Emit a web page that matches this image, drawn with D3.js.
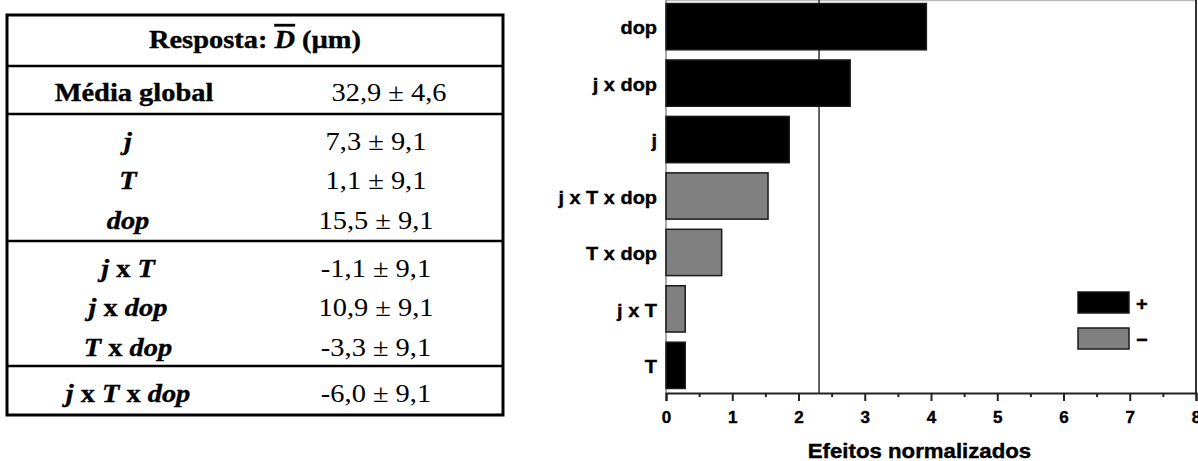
<!DOCTYPE html>
<html>
<head>
<meta charset="utf-8">
<script src="https://cdn.jsdelivr.net/npm/d3@7"></script>
<style>
  html, body { margin: 0; padding: 0; background: #fff; }
  svg { display: block; }
</style>
</head>
<body>
<svg id="chart" width="1198" height="461"></svg>
<script>
// ---------------- DATA ----------------
// Table
const tableHeader = "Resposta: ";
const tableHeaderSymbol = "D";
const tableHeaderUnit = " (µm)";
const meanLabel = "Média global";
const meanValue = 32.9;
const meanError = 4.6;
const tableEffects = ["j", "T", "dop", "j x T", "j x dop", "T x dop", "j x T x dop"];
const tableEffectValues = [7.3, 1.1, 15.5, -1.1, 10.9, -3.3, -6.0];
const tableEffectError = 9.1;
const tableGroups = [[0, 1, 2], [3, 4, 5], [6]];

// Pareto chart
const chartCategories = ["dop", "j x dop", "j", "j x T x dop", "T x dop", "j x T", "T"];
const chartValues = [3.93, 2.78, 1.86, 1.54, 0.84, 0.29, 0.29];
const chartSigns = ["+", "+", "+", "-", "-", "-", "+"];
const referenceValue = 2.31;
const xTicks = [0, 1, 2, 3, 4, 5, 6, 7, 8];
const xMinorTicks = [0.5, 1.5, 2.5, 3.5, 4.5, 5.5, 6.5, 7.5];
const xTitle = "Efeitos normalizados";
const legendLabels = ["+", "−"];
const legendSigns = ["+", "-"];

// ---------------- DRAW ----------------
const svg = d3.select("#chart");
const fmt = v => v.toFixed(1).replace(".", ",");

// ---- TABLE ----
const T = { left: 7, right: 503, top: 15, bottom: 415, sx: 1.16 };
const tCx = (T.left + T.right) / 2;
const colL = 128, colR = 376;
const table = svg.append("g").attr("font-family", "'Liberation Serif', 'Times New Roman', serif")
  .attr("font-size", 24.5).attr("fill", "#000");

table.append("rect")
  .attr("x", T.left).attr("y", T.top)
  .attr("width", T.right - T.left).attr("height", T.bottom - T.top)
  .attr("fill", "none").attr("stroke", "#000").attr("stroke-width", 3);

function hline(y) {
  table.append("line").attr("x1", T.left).attr("x2", T.right)
    .attr("y1", y).attr("y2", y).attr("stroke", "#000").attr("stroke-width", 2.5);
}

// header
const hdr = table.append("text")
  .attr("transform", `translate(${tCx},48) scale(${T.sx},1)`)
  .attr("text-anchor", "middle").attr("font-weight", "bold")
  .attr("stroke", "#000").attr("stroke-width", 0.35);
hdr.append("tspan").text(tableHeader);
hdr.append("tspan").attr("font-style", "italic")
  .style("text-decoration", "overline").text(tableHeaderSymbol);
hdr.append("tspan").text(tableHeaderUnit);
hline(66);

// mean row
table.append("text").attr("transform", `translate(134,101) scale(${T.sx},1)`)
  .attr("text-anchor", "middle").attr("font-weight", "bold")
  .attr("stroke", "#000").attr("stroke-width", 0.35).text(meanLabel);
table.append("text").attr("transform", `translate(389,101) scale(${T.sx},1)`)
  .attr("text-anchor", "middle").text(`${fmt(meanValue)} ± ${fmt(meanError)}`);
hline(114);

// effect rows
const groupLines = [114, 241, 366];
tableGroups.forEach((grp, gi) => {
  const y0 = groupLines[gi] + 35.5;
  grp.forEach((idx, k) => {
    const yy = y0 + k * 39.5;
    const lbl = table.append("text")
      .attr("transform", `translate(${colL},${yy}) scale(${T.sx},1)`)
      .attr("text-anchor", "middle").attr("font-weight", "bold")
      .attr("stroke", "#000").attr("stroke-width", 0.35);
    const parts = tableEffects[idx].split(" x ");
    parts.forEach((p, pi) => {
      if (pi > 0) lbl.append("tspan").attr("font-style", "normal").text(" x ");
      lbl.append("tspan").attr("font-style", "italic").text(p);
    });
    table.append("text")
      .attr("transform", `translate(${colR},${yy}) scale(${T.sx},1)`)
      .attr("text-anchor", "middle")
      .text(`${fmt(tableEffectValues[idx])} ± ${fmt(tableEffectError)}`);
  });
  if (gi < tableGroups.length - 1) hline(groupLines[gi + 1]);
});

// ---- CHART ----
const P = { left: 666, right: 1196, top: 0, bottom: 393, sx: 1.05 };
const x = d3.scaleLinear().domain([0, 8]).range([P.left, P.right]);
const y = d3.scaleBand().domain(chartCategories).range([P.top - 1, P.bottom])
  .paddingInner(0.18).paddingOuter(0.08);
const fillFor = s => s === "+" ? "#000" : "#808080";

const chart = svg.append("g").attr("font-family", "'Liberation Sans', Arial, sans-serif")
  .attr("font-weight", "bold").attr("fill", "#000");

// frame
chart.append("line").attr("x1", P.left).attr("x2", P.right).attr("y1", 0.5).attr("y2", 0.5)
  .attr("stroke", "#bbb").attr("stroke-width", 1.5);
chart.append("line").attr("x1", P.right).attr("x2", P.right).attr("y1", 0).attr("y2", P.bottom)
  .attr("stroke", "#333").attr("stroke-width", 2);
chart.append("line").attr("x1", P.left).attr("x2", P.left).attr("y1", 0).attr("y2", P.bottom)
  .attr("stroke", "#555").attr("stroke-width", 1);

// reference line
chart.append("line").attr("x1", x(referenceValue)).attr("x2", x(referenceValue))
  .attr("y1", 0).attr("y2", P.bottom).attr("stroke", "#333").attr("stroke-width", 1.5);

// bars
chart.selectAll("rect.bar").data(chartCategories).join("rect").attr("class", "bar")
  .attr("x", x(0))
  .attr("y", d => y(d))
  .attr("width", (d, i) => x(chartValues[i]) - x(0))
  .attr("height", y.bandwidth())
  .attr("fill", (d, i) => fillFor(chartSigns[i]))
  .attr("stroke", "#1a1a1a").attr("stroke-width", 1.5);

// y labels
chart.selectAll("text.ylab").data(chartCategories).join("text").attr("class", "ylab")
  .attr("transform", d => `translate(${P.left - 9},${y(d) + y.bandwidth() / 2 + 1}) scale(${P.sx},1)`)
  .attr("text-anchor", "end").attr("dominant-baseline", "central")
  .attr("stroke", "#000").attr("stroke-width", 0.4)
  .attr("font-size", 19).text(d => d);

// x axis
const xAxis = chart.append("g").attr("transform", `translate(0,${P.bottom})`)
  .call(d3.axisBottom(x).tickValues(xTicks).tickSize(8).tickPadding(10).tickFormat(d3.format("d")));
xAxis.attr("font-size", null).attr("font-family", null);
xAxis.select(".domain").attr("stroke", "#222").attr("stroke-width", 2);
xAxis.selectAll(".tick line").attr("stroke", "#222").attr("stroke-width", 2);
xAxis.selectAll(".tick text")
  .style("font-size", "17px").style("font-weight", "bold")
  .style("font-family", "'Liberation Sans', Arial, sans-serif").attr("fill", "#000")
  .attr("stroke", "#000").attr("stroke-width", 0.4);
const xMinor = chart.append("g").attr("transform", `translate(0,${P.bottom})`)
  .call(d3.axisBottom(x).tickValues(xMinorTicks).tickSize(4).tickFormat(""));
xMinor.select(".domain").remove();
xMinor.selectAll(".tick line").attr("stroke", "#222").attr("stroke-width", 2);

// x title
chart.append("text")
  .attr("transform", `translate(${(809 + 1030) / 2},458) scale(1.14,1)`)
  .attr("text-anchor", "middle").attr("font-size", 19.5)
  .attr("stroke", "#000").attr("stroke-width", 0.4).text(xTitle);

// legend
const legend = chart.append("g");
legendLabels.forEach((lab, i) => {
  const ly = 292 + i * 36;
  legend.append("rect").attr("x", 1078).attr("y", ly).attr("width", 51).attr("height", 21)
    .attr("fill", fillFor(legendSigns[i])).attr("stroke", "#1a1a1a").attr("stroke-width", 1.5);
  legend.append("text").attr("transform", `translate(1136,${ly + 11}) scale(${P.sx},1)`)
    .attr("dominant-baseline", "central").attr("font-size", 19)
    .attr("stroke", "#000").attr("stroke-width", 0.4).text(lab);
});
</script>
</body>
</html>
